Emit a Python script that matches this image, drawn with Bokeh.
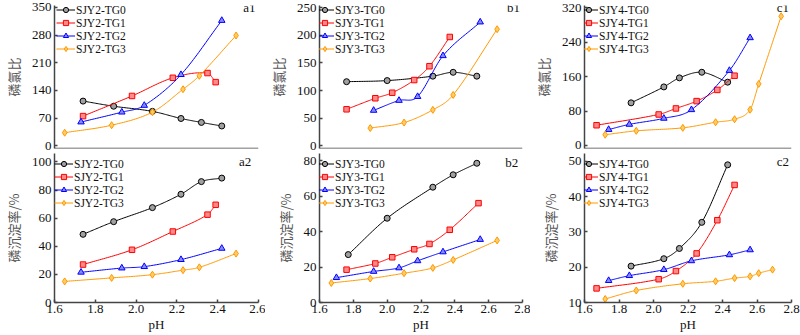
import numpy as np
from bokeh.plotting import figure
from bokeh.layouts import gridplot
from bokeh.models import Legend, LegendItem, Label, Range1d, FixedTicker, PrintfTickFormatter, Span
from bokeh.embed import file_html
from bokeh.resources import INLINE

# ---------------- data ----------------
series_names = ["TG0", "TG1", "TG2", "TG3"]

# panel a (SJY2)
a_x_tg0 = [1.74, 1.89, 2.08, 2.22, 2.32, 2.42]
a_x_tg1 = [1.74, 1.98, 2.18, 2.35, 2.39]
a_x_tg2 = [1.73, 1.93, 2.04, 2.22, 2.42]
a_x_tg3 = [1.65, 1.88, 2.08, 2.23, 2.31, 2.49]
a1_tg0 = [113, 100, 87, 69, 59, 50]
a1_tg1 = [75, 126, 172, 184, 161]
a1_tg2 = [60, 85, 102, 180, 317]
a1_tg3 = [33, 52, 85, 143, 177, 279]
a2_tg0 = [48.5, 57.5, 67.5, 77, 86, 88.5]
a2_tg1 = [27, 37.5, 50.5, 62.5, 69.5]
a2_tg2 = [21.5, 24.5, 25.5, 30.5, 38.5]
a2_tg3 = [15, 17.5, 19.8, 23, 25, 34.8]

# panel b (SJY3)
b1_x_tg0 = [1.76, 2.00, 2.27, 2.39, 2.53]
b1_x_tg1 = [1.76, 1.93, 2.03, 2.16, 2.25, 2.37]
b1_x_tg2 = [1.92, 2.07, 2.18, 2.33, 2.55]
b1_x_tg3 = [1.90, 2.10, 2.27, 2.39, 2.65]
b1_tg0 = [116, 118, 126, 133, 126]
b1_tg1 = [66, 86, 96, 119, 144, 197]
b1_tg2 = [64, 82, 89, 163, 224]
b1_tg3 = [32, 42, 65, 92, 211]
b2_x_tg0 = [1.77, 2.00, 2.27, 2.39, 2.53]
b2_x_tg1 = [1.76, 1.93, 2.03, 2.16, 2.25, 2.37, 2.54]
b2_x_tg2 = [1.70, 1.92, 2.07, 2.18, 2.33, 2.55]
b2_x_tg3 = [1.67, 1.90, 2.10, 2.27, 2.39, 2.65]
b2_tg0 = [27, 47.5, 65, 72, 78.5]
b2_tg1 = [18.5, 22, 25.5, 30, 33, 41, 56]
b2_tg2 = [14, 17.5, 19.5, 23.5, 28.5, 35.5]
b2_tg3 = [11, 13.5, 16.5, 19.5, 24, 35]

# panel c (SJY4)
c_x_tg0 = [1.87, 2.06, 2.15, 2.28, 2.43]
c_x_tg1 = [1.67, 2.03, 2.13, 2.25, 2.37, 2.47]
c_x_tg2 = [1.74, 1.86, 2.06, 2.22, 2.44, 2.56]
c1_x_tg3 = [1.72, 1.90, 2.17, 2.36, 2.47, 2.56, 2.61, 2.74]
c2_x_tg3 = [1.72, 1.90, 2.17, 2.36, 2.47, 2.56, 2.61, 2.69]
c1_tg0 = [99, 136, 157, 170, 147]
c1_tg1 = [47, 72, 86, 103, 129, 162]
c1_tg2 = [37, 49, 63, 83, 174, 250]
c1_tg3 = [25, 34, 41, 54, 61, 83, 143, 300]
c2_tg0 = [20.3, 22.4, 25.3, 32.7, 49]
c2_tg1 = [14, 16.6, 18.9, 23.9, 33.3, 43.3]
c2_tg2 = [16.2, 17.6, 19.3, 21.8, 23.5, 24.9]
c2_tg3 = [11, 13.4, 15.3, 16, 16.9, 17.4, 18.3, 19.3]

x_ticks_a = [1.6, 1.8, 2.0, 2.2, 2.4, 2.6]
x_ticks_bc = [1.6, 1.8, 2.0, 2.2, 2.4, 2.6, 2.8]
y_ticks_a1 = [0, 70, 140, 210, 280, 350]
y_ticks_a2 = [0, 20, 40, 60, 80, 100]
y_ticks_b1 = [0, 50, 100, 150, 200, 250]
y_ticks_b2 = [0, 20, 40, 60, 80]
y_ticks_c1 = [0, 80, 160, 240, 320]
y_ticks_c2 = [10, 20, 30, 40, 50]

# ---------------- style ----------------
COLORS = ["#000000", "#FF0000", "#0000FF", "#FF9900"]
FILLS = ["#a0a0a0", "#ff8a8a", "#8a8aff", "#ffcc66"]
MARKERS = ["circle", "square", "triangle", "diamond"]
SIZES = [6, 5.5, 6.5, 7]
SERIF = "Liberation Serif"
CJK = "Noto Sans CJK SC"
AXIS_COLOR = "#444444"


def smooth(xs, ys, n=24):
    xs = np.asarray(xs, float)
    ys = np.asarray(ys, float)
    m = np.empty_like(ys)
    m[1:-1] = (ys[2:] - ys[:-2]) / (xs[2:] - xs[:-2])
    m[0] = (ys[1] - ys[0]) / (xs[1] - xs[0])
    m[-1] = (ys[-1] - ys[-2]) / (xs[-1] - xs[-2])
    ox, oy = [], []
    for i in range(len(xs) - 1):
        h = xs[i + 1] - xs[i]
        t = np.linspace(0, 1, n, endpoint=(i == len(xs) - 2))
        h00 = 2 * t**3 - 3 * t**2 + 1
        h10 = t**3 - 2 * t**2 + t
        h01 = -2 * t**3 + 3 * t**2
        h11 = t**3 - t**2
        ox.append(xs[i] + t * h)
        oy.append(h00 * ys[i] + h10 * h * m[i] + h01 * ys[i + 1] + h11 * h * m[i + 1])
    return np.concatenate(ox), np.concatenate(oy)


def make_panel(prefix, xs_list, ys_list, xr, yr, xticks, yticks, ylabel, tag,
               width, height, bl, br, bt, bb, top_row, leg_x, leg_y, tag_x, tag_y):
    p = figure(width=width, height=height, output_backend="svg", toolbar_location=None,
               x_range=Range1d(*xr), y_range=Range1d(*yr),
               min_border_left=bl, min_border_right=br, min_border_top=bt, min_border_bottom=bb)
    p.outline_line_color = None
    p.grid.visible = False
    p.background_fill_color = "white"
    p.border_fill_color = "white"
    items = []
    for k in range(4):
        sx, sy = smooth(xs_list[k], ys_list[k])
        lr = p.line(sx, sy, line_color=COLORS[k], line_width=1)
        sr = p.scatter(xs_list[k], ys_list[k], marker=MARKERS[k], size=SIZES[k],
                       line_color=COLORS[k], fill_color=FILLS[k], line_width=1)
        items.append(LegendItem(label=f"{prefix}-{series_names[k]}", renderers=[lr, sr]))
    leg = Legend(items=items, location=(leg_x, leg_y), border_line_color=None,
                 background_fill_alpha=0, padding=0, margin=0, spacing=0,
                 glyph_width=19, glyph_height=13, label_height=13, label_standoff=1,
                 label_text_font=SERIF, label_text_font_size="11.5px", label_text_color="#111111")
    p.add_layout(leg)

    for ax in (p.xaxis, p.yaxis):
        ax.axis_line_color = AXIS_COLOR
        ax.axis_line_width = 1.5
        ax.major_tick_line_color = AXIS_COLOR
        ax.major_tick_line_width = 1.5
        ax.major_tick_in = 3
        ax.major_tick_out = 0
        ax.minor_tick_line_color = None
        ax.major_label_text_font = SERIF
        ax.major_label_text_font_size = "13px"
        ax.major_label_text_color = "#111111"
    p.xaxis.ticker = FixedTicker(ticks=xticks)
    p.xaxis.formatter = PrintfTickFormatter(format="%.1f")
    p.yaxis.ticker = FixedTicker(ticks=yticks)
    p.yaxis.major_label_standoff = 3
    p.yaxis.axis_label = ylabel
    p.yaxis.axis_label_text_font = CJK
    p.yaxis.axis_label_text_font_size = "13px"
    p.yaxis.axis_label_text_font_style = "normal"
    p.yaxis.axis_label_text_color = "#555555"
    p.yaxis.axis_label_standoff = 6
    if top_row:
        p.xaxis.visible = False
        p.add_layout(Span(location=yr[0], dimension="width", line_color=AXIS_COLOR, line_width=1.5))
    else:
        p.xaxis.major_label_standoff = 2
        p.xaxis.axis_label = "pH"
        p.xaxis.axis_label_text_font = SERIF
        p.xaxis.axis_label_text_font_size = "13px"
        p.xaxis.axis_label_text_font_style = "normal"
        p.xaxis.axis_label_text_color = "#111111"
        p.xaxis.axis_label_standoff = 1
    p.add_layout(Label(x=tag_x, y=tag_y, text=tag, text_align="right", text_baseline="middle",
                       text_font=SERIF, text_font_size="13px", text_color="#111111"))
    return p


TOP_H, BOT_H = 153, 182
TOP_BB = 5
pa1 = make_panel("SJY2", [a_x_tg0, a_x_tg1, a_x_tg2, a_x_tg3], [a1_tg0, a1_tg1, a1_tg2, a1_tg3],
                 (1.6, 2.6), (-7, 355), x_ticks_a, y_ticks_a1, "磷氯比", "a1",
                 265, TOP_H, 46, 7, 5, TOP_BB, True, 2, 93, 2.585, 350)
pa2 = make_panel("SJY2", [a_x_tg0, a_x_tg1, a_x_tg2, a_x_tg3], [a2_tg0, a2_tg1, a2_tg2, a2_tg3],
                 (1.6, 2.6), (0, 106), x_ticks_a, y_ticks_a2, "磷沉淀率/%", "a2",
                 265, BOT_H, 46, 7, 0, 33, False, 0, 93, 2.565, 100)
pb1 = make_panel("SJY3", [b1_x_tg0, b1_x_tg1, b1_x_tg2, b1_x_tg3], [b1_tg0, b1_tg1, b1_tg2, b1_tg3],
                 (1.6, 2.8), (-5, 254), x_ticks_bc, y_ticks_b1, "磷氯比", "b1",
                 265, TOP_H, 43, 8, 5, TOP_BB, True, -4, 93, 2.785, 250)
pb2 = make_panel("SJY3", [b2_x_tg0, b2_x_tg1, b2_x_tg2, b2_x_tg3], [b2_tg0, b2_tg1, b2_tg2, b2_tg3],
                 (1.6, 2.8), (0, 84), x_ticks_bc, y_ticks_b2, "磷沉淀率/%", "b2",
                 265, BOT_H, 43, 8, 0, 33, False, -4, 93, 2.775, 79)
pc1 = make_panel("SJY4", [c_x_tg0, c_x_tg1, c_x_tg2, c1_x_tg3], [c1_tg0, c1_tg1, c1_tg2, c1_tg3],
                 (1.6, 2.8), (-7, 325), x_ticks_bc, y_ticks_c1, "磷氯比", "c1",
                 270, TOP_H, 43, 9, 5, TOP_BB, True, -5, 93, 2.785, 320)
pc2 = make_panel("SJY4", [c_x_tg0, c_x_tg1, c_x_tg2, c2_x_tg3], [c2_tg0, c2_tg1, c2_tg2, c2_tg3],
                 (1.6, 2.8), (10, 52.2), x_ticks_bc, y_ticks_c2, "磷沉淀率/%", "c2",
                 270, BOT_H, 43, 9, 0, 33, False, -5, 93, 2.785, 50)

grid = gridplot([[pa1, pb1, pc1], [pa2, pb2, pc2]], toolbar_location=None)

open("out.html", "w").write(file_html(grid, INLINE))
